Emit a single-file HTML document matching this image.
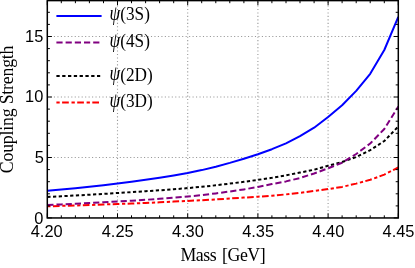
<!DOCTYPE html>
<html><head><meta charset="utf-8"><title>Coupling Strength vs Mass</title>
<style>
html,body{margin:0;padding:0;background:#fff;}
svg{display:block;}
.tk{font-family:"Liberation Sans",Arial,Helvetica,sans-serif;font-size:16.4px;fill:#000;}
.lb{font-family:"Liberation Serif","Times New Roman",Times,serif;font-size:17.2px;fill:#000;}
.it{font-style:italic;}
</style></head><body>
<svg width="415" height="268" viewBox="0 0 415 268">
<rect width="415" height="268" fill="#fff"/>
<g stroke="#999" stroke-width="1.1" stroke-dasharray="1.1 2.3655" fill="none">
<line x1="117.5" y1="217.95" x2="117.5" y2="0.6"/>
<line x1="187.7" y1="217.95" x2="187.7" y2="0.6"/>
<line x1="257.9" y1="217.95" x2="257.9" y2="0.6"/>
<line x1="328.1" y1="217.95" x2="328.1" y2="0.6"/>
<line x1="47.3" y1="157.5" x2="398.3" y2="157.5" stroke-dashoffset="0.3"/>
<line x1="47.3" y1="97.0" x2="398.3" y2="97.0" stroke-dashoffset="0.3"/>
<line x1="47.3" y1="36.5" x2="398.3" y2="36.5" stroke-dashoffset="0.3"/>
</g>
<clipPath id="c"><rect x="47.3" y="0.6" width="351.0" height="217.35"/></clipPath>
<g clip-path="url(#c)" fill="none" stroke-width="2" stroke-linejoin="round">
<polyline points="47.3,206.3 61.3,205.9 75.4,205.5 89.4,205.0 103.5,204.5 117.5,204.0 131.5,203.5 145.6,202.9 159.6,202.3 173.7,201.6 187.7,200.9 201.7,200.2 215.8,199.4 229.8,198.5 243.9,197.6 257.9,196.7 271.9,195.7 286.0,194.4 300.0,192.8 314.1,191.0 328.1,189.1 342.1,186.9 356.2,183.6 370.2,179.8 384.3,174.6 398.3,167.5" stroke="#ff0000" stroke-dasharray="3.25 2.4 6.65 2.65"/>
<polyline points="47.3,197.0 61.3,196.3 75.4,195.5 89.4,194.7 103.5,193.9 117.5,193.0 131.5,192.1 145.6,191.2 159.6,190.3 173.7,189.3 187.7,188.1 201.7,186.8 215.8,185.3 229.8,183.6 243.9,181.8 257.9,179.9 271.9,177.8 286.0,175.3 300.0,172.6 314.1,169.7 328.1,165.8 342.1,162.0 356.2,157.0 370.2,150.2 384.3,141.0 398.3,126.5" stroke="#000000" stroke-dasharray="3.25 2.47"/>
<polyline points="47.3,205.0 61.3,204.4 75.4,203.7 89.4,203.0 103.5,202.3 117.5,201.5 131.5,200.7 145.6,199.8 159.6,198.8 173.7,197.7 187.7,196.5 201.7,195.1 215.8,193.4 229.8,191.5 243.9,189.4 257.9,187.0 271.9,184.1 286.0,181.4 300.0,178.0 314.1,173.5 328.1,168.3 342.1,162.7 356.2,154.0 370.2,143.5 384.3,129.0 398.3,106.5" stroke="#800080" stroke-dasharray="6.2 2.975"/>
<polyline points="47.3,190.8 61.3,189.5 75.4,188.2 89.4,186.7 103.5,185.2 117.5,183.5 131.5,181.7 145.6,179.8 159.6,177.8 173.7,175.5 187.7,173.0 201.7,170.1 215.8,166.7 229.8,162.9 243.9,158.7 257.9,154.2 271.9,149.2 286.0,143.3 300.0,136.1 314.1,127.7 328.1,117.0 342.1,105.3 356.2,90.9 370.2,73.8 384.3,50.0 398.3,16.8" stroke="#0000ff"/>
</g>
<g stroke="#000" stroke-width="1" fill="none">
<line x1="47.3" y1="217.95" x2="47.3" y2="213.35"/>
<line x1="47.3" y1="0.6" x2="47.3" y2="5.199999999999999"/>
<line x1="61.3" y1="217.95" x2="61.3" y2="215.35"/>
<line x1="61.3" y1="0.6" x2="61.3" y2="3.2"/>
<line x1="75.4" y1="217.95" x2="75.4" y2="215.35"/>
<line x1="75.4" y1="0.6" x2="75.4" y2="3.2"/>
<line x1="89.4" y1="217.95" x2="89.4" y2="215.35"/>
<line x1="89.4" y1="0.6" x2="89.4" y2="3.2"/>
<line x1="103.5" y1="217.95" x2="103.5" y2="215.35"/>
<line x1="103.5" y1="0.6" x2="103.5" y2="3.2"/>
<line x1="117.5" y1="217.95" x2="117.5" y2="213.35"/>
<line x1="117.5" y1="0.6" x2="117.5" y2="5.199999999999999"/>
<line x1="131.5" y1="217.95" x2="131.5" y2="215.35"/>
<line x1="131.5" y1="0.6" x2="131.5" y2="3.2"/>
<line x1="145.6" y1="217.95" x2="145.6" y2="215.35"/>
<line x1="145.6" y1="0.6" x2="145.6" y2="3.2"/>
<line x1="159.6" y1="217.95" x2="159.6" y2="215.35"/>
<line x1="159.6" y1="0.6" x2="159.6" y2="3.2"/>
<line x1="173.7" y1="217.95" x2="173.7" y2="215.35"/>
<line x1="173.7" y1="0.6" x2="173.7" y2="3.2"/>
<line x1="187.7" y1="217.95" x2="187.7" y2="213.35"/>
<line x1="187.7" y1="0.6" x2="187.7" y2="5.199999999999999"/>
<line x1="201.7" y1="217.95" x2="201.7" y2="215.35"/>
<line x1="201.7" y1="0.6" x2="201.7" y2="3.2"/>
<line x1="215.8" y1="217.95" x2="215.8" y2="215.35"/>
<line x1="215.8" y1="0.6" x2="215.8" y2="3.2"/>
<line x1="229.8" y1="217.95" x2="229.8" y2="215.35"/>
<line x1="229.8" y1="0.6" x2="229.8" y2="3.2"/>
<line x1="243.9" y1="217.95" x2="243.9" y2="215.35"/>
<line x1="243.9" y1="0.6" x2="243.9" y2="3.2"/>
<line x1="257.9" y1="217.95" x2="257.9" y2="213.35"/>
<line x1="257.9" y1="0.6" x2="257.9" y2="5.199999999999999"/>
<line x1="271.9" y1="217.95" x2="271.9" y2="215.35"/>
<line x1="271.9" y1="0.6" x2="271.9" y2="3.2"/>
<line x1="286.0" y1="217.95" x2="286.0" y2="215.35"/>
<line x1="286.0" y1="0.6" x2="286.0" y2="3.2"/>
<line x1="300.0" y1="217.95" x2="300.0" y2="215.35"/>
<line x1="300.0" y1="0.6" x2="300.0" y2="3.2"/>
<line x1="314.1" y1="217.95" x2="314.1" y2="215.35"/>
<line x1="314.1" y1="0.6" x2="314.1" y2="3.2"/>
<line x1="328.1" y1="217.95" x2="328.1" y2="213.35"/>
<line x1="328.1" y1="0.6" x2="328.1" y2="5.199999999999999"/>
<line x1="342.1" y1="217.95" x2="342.1" y2="215.35"/>
<line x1="342.1" y1="0.6" x2="342.1" y2="3.2"/>
<line x1="356.2" y1="217.95" x2="356.2" y2="215.35"/>
<line x1="356.2" y1="0.6" x2="356.2" y2="3.2"/>
<line x1="370.2" y1="217.95" x2="370.2" y2="215.35"/>
<line x1="370.2" y1="0.6" x2="370.2" y2="3.2"/>
<line x1="384.3" y1="217.95" x2="384.3" y2="215.35"/>
<line x1="384.3" y1="0.6" x2="384.3" y2="3.2"/>
<line x1="398.3" y1="217.95" x2="398.3" y2="213.35"/>
<line x1="398.3" y1="0.6" x2="398.3" y2="5.199999999999999"/>
<line x1="47.3" y1="217.9" x2="51.9" y2="217.9"/>
<line x1="398.3" y1="217.9" x2="393.7" y2="217.9"/>
<line x1="47.3" y1="205.9" x2="49.9" y2="205.9"/>
<line x1="398.3" y1="205.9" x2="395.7" y2="205.9"/>
<line x1="47.3" y1="193.8" x2="49.9" y2="193.8"/>
<line x1="398.3" y1="193.8" x2="395.7" y2="193.8"/>
<line x1="47.3" y1="181.7" x2="49.9" y2="181.7"/>
<line x1="398.3" y1="181.7" x2="395.7" y2="181.7"/>
<line x1="47.3" y1="169.6" x2="49.9" y2="169.6"/>
<line x1="398.3" y1="169.6" x2="395.7" y2="169.6"/>
<line x1="47.3" y1="157.5" x2="51.9" y2="157.5"/>
<line x1="398.3" y1="157.5" x2="393.7" y2="157.5"/>
<line x1="47.3" y1="145.4" x2="49.9" y2="145.4"/>
<line x1="398.3" y1="145.4" x2="395.7" y2="145.4"/>
<line x1="47.3" y1="133.3" x2="49.9" y2="133.3"/>
<line x1="398.3" y1="133.3" x2="395.7" y2="133.3"/>
<line x1="47.3" y1="121.2" x2="49.9" y2="121.2"/>
<line x1="398.3" y1="121.2" x2="395.7" y2="121.2"/>
<line x1="47.3" y1="109.1" x2="49.9" y2="109.1"/>
<line x1="398.3" y1="109.1" x2="395.7" y2="109.1"/>
<line x1="47.3" y1="97.0" x2="51.9" y2="97.0"/>
<line x1="398.3" y1="97.0" x2="393.7" y2="97.0"/>
<line x1="47.3" y1="84.9" x2="49.9" y2="84.9"/>
<line x1="398.3" y1="84.9" x2="395.7" y2="84.9"/>
<line x1="47.3" y1="72.8" x2="49.9" y2="72.8"/>
<line x1="398.3" y1="72.8" x2="395.7" y2="72.8"/>
<line x1="47.3" y1="60.7" x2="49.9" y2="60.7"/>
<line x1="398.3" y1="60.7" x2="395.7" y2="60.7"/>
<line x1="47.3" y1="48.6" x2="49.9" y2="48.6"/>
<line x1="398.3" y1="48.6" x2="395.7" y2="48.6"/>
<line x1="47.3" y1="36.5" x2="51.9" y2="36.5"/>
<line x1="398.3" y1="36.5" x2="393.7" y2="36.5"/>
<line x1="47.3" y1="24.4" x2="49.9" y2="24.4"/>
<line x1="398.3" y1="24.4" x2="395.7" y2="24.4"/>
<line x1="47.3" y1="12.3" x2="49.9" y2="12.3"/>
<line x1="398.3" y1="12.3" x2="395.7" y2="12.3"/>
<line x1="47.3" y1="0.2" x2="49.9" y2="0.2"/>
<line x1="398.3" y1="0.2" x2="395.7" y2="0.2"/>
</g>
<rect x="47.3" y="0.6" width="351.0" height="217.35" fill="none" stroke="#000" stroke-width="1.5"/>
<text class="tk" x="46.7" y="236.9" text-anchor="middle">4.20</text>
<text class="tk" x="117.7" y="236.9" text-anchor="middle">4.25</text>
<text class="tk" x="187.9" y="236.9" text-anchor="middle">4.30</text>
<text class="tk" x="258.1" y="236.9" text-anchor="middle">4.35</text>
<text class="tk" x="328.3" y="236.9" text-anchor="middle">4.40</text>
<text class="tk" x="398.5" y="236.9" text-anchor="middle">4.45</text>
<text class="tk" x="43.3" y="223.6" text-anchor="end">0</text>
<text class="tk" x="43.8" y="163.1" text-anchor="end">5</text>
<text class="tk" x="43.3" y="102.3" text-anchor="end">10</text>
<text class="tk" x="43.3" y="42.3" text-anchor="end">15</text>
<text class="lb" x="180.4" y="260.7" style="font-size:17.8px" letter-spacing="-0.46" word-spacing="2">Mass [GeV]</text>
<text class="lb" transform="translate(13.4,173.2) rotate(-90)" style="font-size:17.8px" letter-spacing="-0.2">Coupling Strength</text>
<line x1="56.4" y1="15.95" x2="101.6" y2="15.95" stroke="#0000ff" stroke-width="2"/>
<text class="lb it" transform="translate(109.6,20.4) scale(1,1.2)">ψ</text>
<text class="lb" transform="translate(120.3,20.4) scale(1,1.07)">(3S)</text>
<line x1="56.4" y1="42.5" x2="100.2" y2="42.5" stroke="#800080" stroke-width="2" stroke-dasharray="6.2 3"/>
<text class="lb it" transform="translate(109.6,46.9) scale(1,1.2)">ψ</text>
<text class="lb" transform="translate(120.3,47.0) scale(1,1.07)">(4S)</text>
<line x1="56.4" y1="76.0" x2="100.2" y2="76.0" stroke="#000000" stroke-width="2" stroke-dasharray="3.3 2.5"/>
<text class="lb it" transform="translate(109.6,80.4) scale(1,1.2)">ψ</text>
<text class="lb" transform="translate(120.3,80.5) scale(1,1.07)">(2D)</text>
<line x1="56.4" y1="102.6" x2="100.2" y2="102.6" stroke="#ff0000" stroke-width="2" stroke-dasharray="3.3 2.4 6.7 2.7"/>
<text class="lb it" transform="translate(109.6,107.0) scale(1,1.2)">ψ</text>
<text class="lb" transform="translate(120.3,107.1) scale(1,1.07)">(3D)</text>
</svg></body></html>
